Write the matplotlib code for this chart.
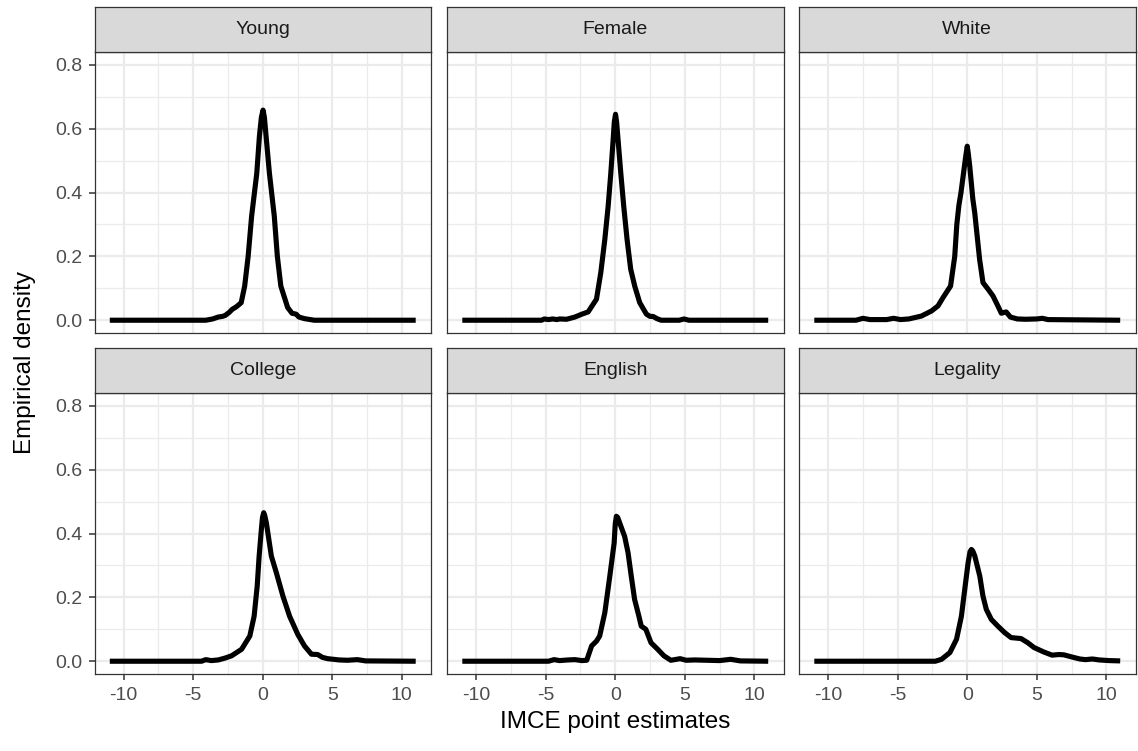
import matplotlib
matplotlib.use("Agg")
import matplotlib.pyplot as plt

plt.rcParams['font.family'] = ['Liberation Sans', 'DejaVu Sans']

# -------- DATA --------
panel_names = ["Young", "Female", "White", "College", "English", "Legality"]

young_x = [-11, -4.1, -3.6, -3.2, -2.9, -2.7, -2.4, -2.2, -1.9, -1.55, -1.3, -1.05,
           -0.8, -0.43, -0.24, -0.1, 0.02, 0.12, 0.24, 0.48, 0.83, 1.05, 1.3, 1.79,
           2.1, 2.4, 2.6, 3.0, 3.7, 11]
young_y = [0, 0, 0.004, 0.01, 0.012, 0.015, 0.025, 0.034, 0.042, 0.055, 0.107, 0.2,
           0.326, 0.46, 0.576, 0.635, 0.658, 0.635, 0.576, 0.46, 0.326, 0.2, 0.107,
           0.04, 0.022, 0.019, 0.01, 0.005, 0, 0]

female_x = [-11, -5.3, -5.1, -4.8, -4.5, -4.2, -4.0, -3.5, -2.9, -2.4, -1.95, -1.35,
            -1.04, -0.75, -0.51, -0.32, -0.15, -0.07, 0.02, 0.1, 0.2, 0.4, 0.61, 0.85,
            1.11, 1.4, 1.76, 2.24, 2.5, 2.71, 3.0, 3.3, 4.6, 4.95, 5.3, 11]
female_y = [0, 0, 0.004, 0.002, 0.004, 0.002, 0.004, 0.003, 0.01, 0.019, 0.026, 0.066,
            0.149, 0.253, 0.357, 0.46, 0.566, 0.62, 0.645, 0.62, 0.566, 0.46, 0.357,
            0.253, 0.16, 0.107, 0.055, 0.019, 0.012, 0.012, 0.005, 0, 0, 0.004, 0, 0]

white_x = [-11, -8.0, -7.5, -7.0, -5.8, -5.3, -4.8, -4.2, -3.3, -2.57, -2.1, -1.74,
           -1.2, -0.9, -0.75, -0.6, -0.45, -0.3, -0.15, -0.07, 0.0, 0.08, 0.18, 0.4,
           0.54, 0.89, 1.13, 1.5, 1.85, 2.2, 2.45, 2.8, 3.1, 3.6, 4.2, 5.0, 5.4, 5.8, 11]
white_y = [0, 0, 0.006, 0.002, 0.002, 0.006, 0.002, 0.004, 0.013, 0.029, 0.045, 0.071,
           0.107, 0.2, 0.3, 0.36, 0.4, 0.45, 0.5, 0.525, 0.545, 0.52, 0.482, 0.38,
           0.336, 0.19, 0.118, 0.097, 0.076, 0.045, 0.022, 0.026, 0.01, 0.004, 0.003,
           0.004, 0.006, 0.002, 0]

college_x = [-11, -4.4, -4.1, -3.7, -3.2, -2.7, -2.24, -1.52, -0.93, -0.62, -0.4, -0.26,
             -0.1, -0.02, 0.07, 0.15, 0.26, 0.62, 0.98, 1.45, 1.93, 2.52, 3.0, 3.5, 3.95,
             4.3, 4.67, 5.5, 6.1, 6.8, 7.4, 11]
college_y = [0, 0, 0.005, 0.002, 0.004, 0.01, 0.017, 0.0375, 0.079, 0.141, 0.235, 0.329,
             0.4125, 0.45, 0.465, 0.455, 0.433, 0.329, 0.277, 0.204, 0.141, 0.084, 0.048,
             0.022, 0.021, 0.012, 0.008, 0.004, 0.003, 0.005, 0.001, 0]

english_x = [-11, -4.8, -4.4, -4.0, -3.4, -2.9, -2.4, -2.05, -1.7, -1.35, -1.12, -0.75,
             -0.39, -0.08, 0.0, 0.08, 0.18, 0.32, 0.68, 0.92, 1.15, 1.39, 1.7, 1.87, 2.2,
             2.57, 3.05, 3.5, 4.0, 4.67, 5.1, 5.7, 7.5, 8.3, 9.0, 11]
english_y = [0, 0, 0.005, 0.002, 0.004, 0.005, 0.002, 0.003, 0.048, 0.063, 0.079, 0.152,
             0.267, 0.37, 0.43, 0.454, 0.45, 0.433, 0.39, 0.34, 0.267, 0.194, 0.141, 0.11,
             0.1, 0.058, 0.0375, 0.017, 0.003, 0.008, 0.003, 0.004, 0.002, 0.006, 0.001, 0]

legality_x = [-11, -2.3, -1.85, -1.25, -0.77, -0.42, -0.18, 0.06, 0.2, 0.3, 0.4, 0.54,
              0.9, 1.13, 1.37, 1.73, 2.2, 2.68, 3.15, 3.87, 4.35, 4.8, 5.5, 6.1, 6.6,
              6.95, 7.55, 8.1, 8.5, 9.0, 9.5, 10.2, 11]
legality_y = [0, 0, 0.006, 0.027, 0.069, 0.141, 0.225, 0.308, 0.343, 0.35, 0.345, 0.33,
              0.267, 0.204, 0.1625, 0.131, 0.11, 0.09, 0.074, 0.071, 0.058, 0.043, 0.029,
              0.019, 0.021, 0.02, 0.013, 0.007, 0.005, 0.007, 0.004, 0.002, 0.001]

curves = [(young_x, young_y), (female_x, female_y), (white_x, white_y),
          (college_x, college_y), (english_x, english_y), (legality_x, legality_y)]

x_ticks = [-10, -5, 0, 5, 10]
x_minor = [-7.5, -2.5, 2.5, 7.5]
y_ticks = [0.0, 0.2, 0.4, 0.6, 0.8]
y_minor = [0.1, 0.3, 0.5, 0.7]

# -------- LAYOUT (pixels) --------
W, H = 1138, 751
col_left = [94.5, 447, 799]
col_w = 336.5
row_top = [52, 393]      # top of plot area
row_h = 281
strip_h = 45

BORDER = "#333333"
GRID = "#EBEBEB"
STRIP = "#D9D9D9"
TICKTXT = "#4D4D4D"

fig = plt.figure(figsize=(W / 100, H / 100), dpi=100)


def fig_rect(left, top, w, h):
    return [left / W, 1 - (top + h) / H, w / W, h / H]


for i, name in enumerate(panel_names):
    r, c = divmod(i, 3)
    ax = fig.add_axes(fig_rect(col_left[c], row_top[r], col_w, row_h))
    x, y = curves[i]

    ax.set_xlim(-12.1, 12.1)
    ax.set_ylim(-0.04, 0.84)
    ax.set_xticks(x_ticks)
    ax.set_xticks(x_minor, minor=True)
    ax.set_yticks(y_ticks)
    ax.set_yticks(y_minor, minor=True)
    ax.grid(which='major', color=GRID, linewidth=1.6)
    ax.grid(which='minor', color=GRID, linewidth=0.9)
    ax.set_axisbelow(True)

    ax.plot(x, y, color='black', linewidth=3.7, solid_joinstyle='round',
            solid_capstyle='butt', zorder=3)

    for sp in ax.spines.values():
        sp.set_color(BORDER)
        sp.set_linewidth(0.9)

    ax.tick_params(which='minor', length=0)
    ax.tick_params(which='major', length=4.5, width=1.1, color=BORDER,
                   labelsize=14, labelcolor=TICKTXT, pad=4.5)
    if c == 0:
        ax.set_yticklabels([f"{v:.1f}" for v in y_ticks])
    else:
        ax.tick_params(axis='y', left=False, labelleft=False)
    if r == 1:
        ax.set_xticklabels([str(v) for v in x_ticks])
    else:
        ax.tick_params(axis='x', bottom=False, labelbottom=False)

    # facet strip
    sax = fig.add_axes(fig_rect(col_left[c], row_top[r] - strip_h, col_w, strip_h))
    sax.set_facecolor(STRIP)
    sax.set_xticks([])
    sax.set_yticks([])
    for sp in sax.spines.values():
        sp.set_color(BORDER)
        sp.set_linewidth(0.9)
    sax.text(0.5, 0.5, name, ha='center', va='center', fontsize=14,
             color="#1A1A1A", transform=sax.transAxes)

fig.text((col_left[0] + col_left[2] + col_w) / 2 / W, 1 - 722 / H,
         "IMCE point estimates", ha='center', va='center', fontsize=17.5)
fig.text(25 / W, 1 - 363 / H, "Empirical density", ha='center', va='center',
         rotation=90, fontsize=17.5)

fig.savefig("out.png", dpi=100)
